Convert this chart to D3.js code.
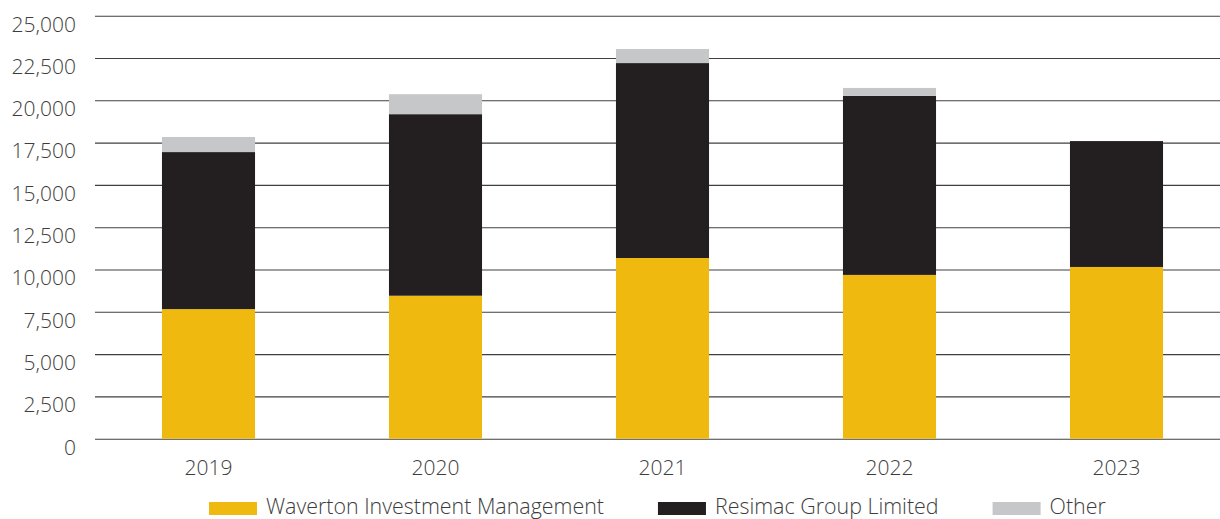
<!DOCTYPE html>
<html>
<head>
<meta charset="utf-8">
<script src="https://cdn.jsdelivr.net/npm/d3@7"></script>
<style>
  body { margin: 0; background: #fff; }
  svg text { font-family: "Open Sans", sans-serif; font-weight: 300; fill: #3d3d3d; }
</style>
</head>
<body>
<div id="chart"></div>
<script>
const years = ["2019", "2020", "2021", "2022", "2023"];
const waverton = [7660, 8450, 10680, 9680, 10150];
const resimac = [9280, 10730, 11520, 10580, 7440];
const other = [890, 1180, 830, 470, 0];
const yTicks = [0, 2500, 5000, 7500, 10000, 12500, 15000, 17500, 20000, 22500, 25000];
const seriesNames = ["Waverton Investment Management", "Resimac Group Limited", "Other"];
const colors = ["#EFB910", "#231F20", "#C6C7C8"];

const W = 1220, H = 519;
const plotLeft = 95, plotRight = 1230, plotTop = 15.7, plotBottom = 438.7;

const svg = d3.select("#chart")
    .append("svg")
    .attr("width", W)
    .attr("height", H);

const x = d3.scaleBand()
    .domain(years)
    .range([plotLeft, plotRight])
    .paddingInner(0.59)
    .paddingOuter(0.295);

const y = d3.scaleLinear()
    .domain([0, 25000])
    .range([plotBottom, plotTop]);

// gridlines + y labels
const yAxis = svg.append("g")
    .attr("transform", `translate(${plotLeft},0)`)
    .call(d3.axisLeft(y)
        .tickValues(yTicks)
        .tickSize(-(W - plotLeft))
        .tickFormat(d3.format(",")));
yAxis.select(".domain").remove();
yAxis.selectAll(".tick line")
    .attr("stroke", "#404040")
    .attr("stroke-width", 1.1);
yAxis.selectAll(".tick text")
    .attr("x", -19)
    .attr("dy", "0.35em")
    .attr("transform", "translate(0,8)")
    .style("font-size", "21px");

// stacked bars
const rows = years.map((yr, i) => ({ year: yr, w: waverton[i], r: resimac[i], o: other[i] }));
const stack = d3.stack().keys(["w", "r", "o"])(rows);

svg.append("g")
    .selectAll("g")
    .data(stack)
    .join("g")
    .attr("fill", (d, i) => colors[i])
    .selectAll("rect")
    .data(d => d)
    .join("rect")
    .attr("x", d => x(d.data.year))
    .attr("width", x.bandwidth())
    .attr("y", d => y(d[1]))
    .attr("height", d => y(d[0]) - y(d[1]));

// x labels
const xAxis = svg.append("g")
    .attr("transform", `translate(0,${plotBottom})`)
    .call(d3.axisBottom(x).tickSize(0));
xAxis.select(".domain").remove();
xAxis.selectAll(".tick text")
    .attr("y", 29)
    .attr("dy", "0.35em")
    .style("font-size", "21px");

// legend
const legend = svg.append("g").attr("transform", "translate(209,0)");
let lx = 0;
seriesNames.forEach((name, i) => {
    legend.append("rect")
        .attr("x", lx)
        .attr("y", 502)
        .attr("width", 48)
        .attr("height", 13)
        .attr("fill", colors[i]);
    const t = legend.append("text")
        .attr("x", lx + 57)
        .attr("y", 514)
        .style("font-size", "21.4px")
        .text(name);
    lx += 57 + t.node().getComputedTextLength() + 54;
});
</script>
</body>
</html>
